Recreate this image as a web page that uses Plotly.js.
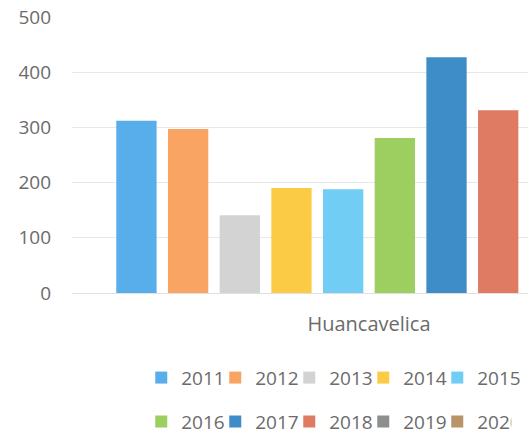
<!DOCTYPE html>
<html><head><meta charset="utf-8">
<script src="https://cdn.plot.ly/plotly-3.0.1.min.js"></script>
<style>html,body{margin:0;padding:0;overflow:hidden;background:#fff}#chart{width:700px;height:436px}
#chart .legend .scrollbox{clip-path:none !important}</style>
</head><body><div id="chart"></div>
<script>
var categories = ["Huancavelica"];
var years = ["2011","2012","2013","2014","2015","2016","2017","2018","2019","2020"];
var values = [312, 297, 141, 190, 188, 281, 427, 331, 373, 300];
var colors = ["#57AEEA","#F9A462","#D3D3D3","#FCCB46","#72CDF4","#9CCF5F","#3F8DC8","#DE7B62","#8E8E8E","#BA9368"];

var traces = years.map(function(y,i){
  return {type:"bar", name:y, x:categories, y:[values[i]],
    marker:{color:colors[i]}, legend: i<5 ? "legend" : "legend2", hoverinfo:"none"};
});
var font = {family:"'Open Sans', sans-serif", size:19, color:"#6b6b6b"};
var layout = {
  width:700, height:436,
  margin:{l:72, r:34, t:17, b:143, autoexpand:false},
  paper_bgcolor:"#fff", plot_bgcolor:"#fff",
  font:font,
  bargap:0.13, bargroupgap:0.22,
  xaxis:{showgrid:false, zeroline:false, showline:false, ticks:"", ticklabelstandoff:17,
    tickfont:{family:"'Open Sans', sans-serif", size:20, color:"#6b6b6b"}},
  yaxis:{range:[0,500], dtick:100, gridcolor:"#e8e8e8", zeroline:true, zerolinecolor:"#e0e0e0",
    showline:false, ticks:"", ticklabelstandoff:20, tickfont:font},
  legend:{orientation:"h", x:0.1166, xanchor:"left", y:-0.307, yanchor:"middle", font:font, entrywidth:29, bgcolor:"rgba(0,0,0,0)"},
  legend2:{orientation:"h", x:0.1166, xanchor:"left", y:-0.466, yanchor:"middle", font:font, entrywidth:29, bgcolor:"rgba(0,0,0,0)"},
  showlegend:true
};
Plotly.newPlot("chart", traces, layout, {displayModeBar:false, staticPlot:true});
</script></body></html>
